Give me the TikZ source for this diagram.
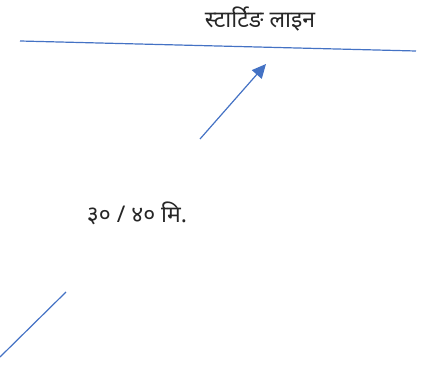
\documentclass[tikz,border=0pt]{standalone}
\usepackage{fontspec}
\usetikzlibrary{arrows.meta}
\newfontfamily\devfont[Script=Devanagari]{Noto Sans}
\definecolor{lineblue}{RGB}{68,114,196}
\begin{document}
\begin{tikzpicture}[x=1pt,y=-1pt,
  conn/.style={draw=lineblue,line width=1.2pt},
  lbl/.style={font=\devfont\fontsize{23}{26}\selectfont,text=black!85,inner sep=0pt}]
\useasboundingbox (0,0) rectangle (431,390);
\node[lbl] (title) at (260,19) {स्टार्टिङ लाइन};
\node[lbl] (dist) at (137,213) {३० / ४० मि.};
\coordinate (l1) at (20,41);
\coordinate (l2) at (416,51);
\draw[conn] (l1) -- (l2);
\coordinate (a1) at (200,139);
\coordinate (a2) at (266,64);
\draw[conn,-{Triangle[length=14pt,width=13pt]}] (a1) -- (a2);
\coordinate (b1) at (66,292);
\coordinate (b2) at (0,357);
\draw[conn] (b1) -- (b2);
\end{tikzpicture}
\end{document}
